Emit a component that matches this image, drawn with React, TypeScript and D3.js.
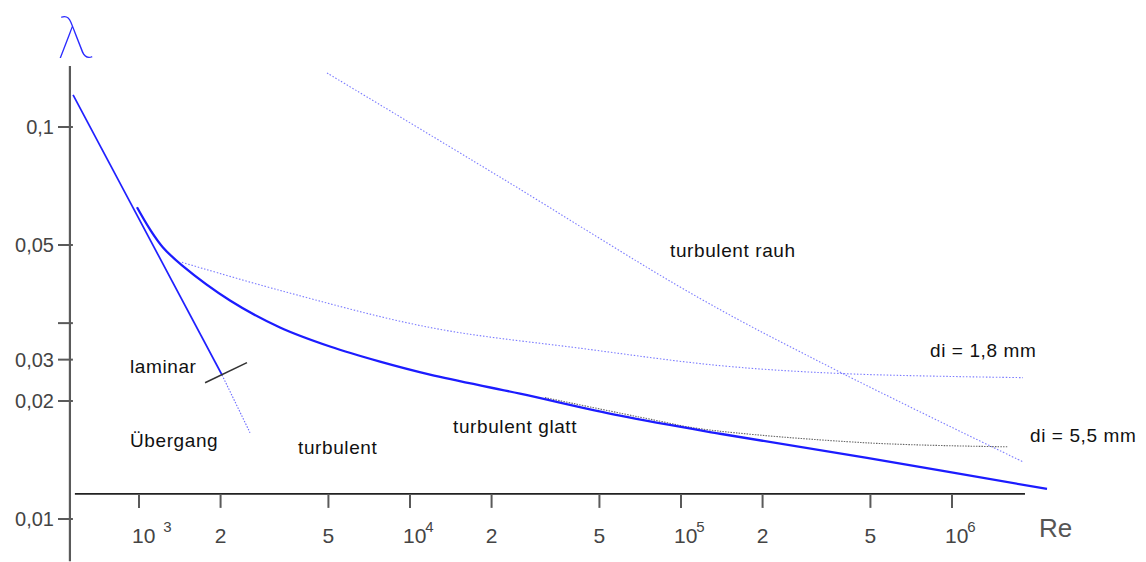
import React, { useEffect, useRef } from "react"
import * as d3 from "d3"

// x axis ticks (Reynolds number)
const xTickValues = [1e3, 2e3, 5e3, 1e4, 2e4, 5e4, 1e5, 2e5, 5e5, 1e6]
const xTickMantissa = ["10", "2", "5", "10", "2", "5", "10", "2", "5", "10"]
const xTickExponent = ["3", "", "", "4", "", "", "5", "", "", "6"]

// y axis ticks (friction factor)
const yTickValues = [0.1, 0.05, 0.0316, 0.0255, 0.02, 0.01]
const yTickLabels = ["0,1", "0,05", "", "0,03", "0,02", "0,01"]

// laminar: lambda = 64/Re (as drawn)
const laminarRe = [571, 2025]
const laminarLambda = [0.1207, 0.0233]
const laminarOutRe = [2025, 2568]
const laminarOutLambda = [0.0233, 0.0166]
const laminarMarkRe = [1753, 2503]
const laminarMarkLambda = [0.02227, 0.02506]

// turbulent smooth pipe
const smoothRe = [983, 1098, 1226, 1441, 2167, 3313, 5068, 7750, 11850, 25460, 59560, 139300, 485800, 2242000]
const smoothLambda = [0.0624, 0.0548, 0.0493, 0.04437, 0.0361, 0.0308, 0.02754, 0.0252, 0.02335, 0.02088, 0.01834, 0.0165, 0.01432, 0.01193]

// rough pipe di = 1,8 mm
const rough18Re = [1441, 3313, 11850, 43480, 139300, 396000, 1828000]
const rough18Lambda = [0.04516, 0.0383, 0.0308, 0.02721, 0.02462, 0.02349, 0.02294]

// rough pipe di = 5,5 mm
const rough55Re = [31490, 78830, 117500, 485800, 1609000]
const rough55Lambda = [0.0204, 0.01791, 0.01699, 0.01564, 0.01528]

// boundary of fully rough region
const roughRe = [4940, 21490, 117500, 396000, 1828000]
const roughLambda = [0.1374, 0.07451, 0.03653, 0.02349, 0.01399]

// axis extents
const xAxisRe = [580, 1859000]
const xAxisLambda = 0.01159
const yAxisRe = 556
const yAxisLambda = [0.143, 0.0078]

const App = () => {
    const ref = useRef<SVGSVGElement | null>(null)

    useEffect(() => {
        if (!ref.current) return
        const svg = d3.select(ref.current)
        svg.selectAll("*").remove()

        const x = d3.scaleLog().domain([1e3, 1e6]).range([139, 952])
        const y = d3.scaleLog().domain([0.1, 0.01]).range([127, 519])

        const line = d3
            .line<[number, number]>()
            .x((d) => x(d[0]))
            .y((d) => y(d[1]))
            .curve(d3.curveCatmullRom.alpha(0.5))

        const zip = (a: number[], b: number[]) =>
            a.map((v, i) => [v, b[i]] as [number, number])

        const font = "'Liberation Sans', Arial, sans-serif"

        // y axis
        svg.append("line")
            .attr("x1", x(yAxisRe)).attr("x2", x(yAxisRe))
            .attr("y1", y(yAxisLambda[0])).attr("y2", y(yAxisLambda[1]))
            .attr("stroke", "#5a5a5a").attr("stroke-width", 2.2)

        yTickValues.forEach((v, i) => {
            svg.append("line")
                .attr("x1", 58).attr("x2", x(yAxisRe) + 3)
                .attr("y1", y(v)).attr("y2", y(v))
                .attr("stroke", "#5a5a5a").attr("stroke-width", 2)
            if (yTickLabels[i]) {
                svg.append("text")
                    .attr("x", 54).attr("y", y(v) + 7)
                    .attr("text-anchor", "end")
                    .attr("font-family", font).attr("font-size", 20)
                    .attr("fill", "#444")
                    .text(yTickLabels[i])
            }
        })

        // x axis
        const xa = y(xAxisLambda)
        svg.append("line")
            .attr("x1", x(xAxisRe[0])).attr("x2", x(xAxisRe[1]))
            .attr("y1", xa).attr("y2", xa)
            .attr("stroke", "#222").attr("stroke-width", 1.6)

        xTickValues.forEach((v, i) => {
            const tx = x(v)
            svg.append("line")
                .attr("x1", tx).attr("x2", tx)
                .attr("y1", xa).attr("y2", xa + 14)
                .attr("stroke", "#5a5a5a").attr("stroke-width", 2)
            const t = svg.append("text")
                .attr("y", 543)
                .attr("font-family", font).attr("font-size", 21)
                .attr("fill", "#444")
            if (xTickExponent[i]) {
                t.attr("x", tx - 7).attr("text-anchor", "start")
                t.append("tspan").text(xTickMantissa[i])
                t.append("tspan")
                    .attr("dx", xTickExponent[i] === "3" ? 8 : -1)
                    .attr("dy", -11)
                    .attr("font-size", 15)
                    .text(xTickExponent[i])
            } else {
                t.attr("x", tx).attr("text-anchor", "middle").text(xTickMantissa[i])
            }
        })

        svg.append("text")
            .attr("x", 1039).attr("y", 537)
            .attr("font-family", font).attr("font-size", 26)
            .attr("fill", "#555")
            .text("Re")

        svg.append("text")
            .attr("x", 75).attr("y", 58)
            .attr("text-anchor", "middle")
            .attr("font-family", "Inter, 'DejaVu Sans', sans-serif")
            .attr("font-weight", 100)
            .attr("font-size", 58)
            .attr("fill", "#2b2bff")
            .text("λ")

        // dotted curves
        svg.append("path")
            .attr("d", line(zip(roughRe, roughLambda)))
            .attr("fill", "none").attr("stroke", "#5a5aff")
            .attr("stroke-width", 1.1).attr("stroke-dasharray", "1.5 1.8")
            .attr("opacity", 0.8)

        svg.append("path")
            .attr("d", line(zip(rough18Re, rough18Lambda)))
            .attr("fill", "none").attr("stroke", "#5a5aff")
            .attr("stroke-width", 1.1).attr("stroke-dasharray", "1.5 1.8")
            .attr("opacity", 0.8)

        svg.append("path")
            .attr("d", line(zip(rough55Re, rough55Lambda)))
            .attr("fill", "none").attr("stroke", "#666")
            .attr("stroke-width", 1.1).attr("stroke-dasharray", "1.5 1.2")

        svg.append("path")
            .attr("d", line(zip(laminarOutRe, laminarOutLambda)))
            .attr("fill", "none").attr("stroke", "#6a6aff")
            .attr("stroke-width", 1.1).attr("stroke-dasharray", "1.5 1.5")

        // solid curves
        svg.append("path")
            .attr("d", line(zip(laminarRe, laminarLambda)))
            .attr("fill", "none").attr("stroke", "#2020ff")
            .attr("stroke-width", 1.7)

        svg.append("path")
            .attr("d", line(zip(smoothRe, smoothLambda)))
            .attr("fill", "none").attr("stroke", "#1c1cff")
            .attr("stroke-width", 2.3)

        svg.append("path")
            .attr("d", line(zip(laminarMarkRe, laminarMarkLambda)))
            .attr("fill", "none").attr("stroke", "#333")
            .attr("stroke-width", 1.6)

        // annotations
        const notes: [string, number, number][] = [
            ["laminar", 130, 373],
            ["Übergang", 130, 447],
            ["turbulent", 298, 454],
            ["turbulent glatt", 453, 433],
            ["turbulent rauh", 670, 257],
            ["di = 1,8 mm", 930, 357],
            ["di = 5,5 mm", 1030, 442],
        ]
        notes.forEach(([s, nx, ny]) => {
            svg.append("text")
                .attr("x", nx).attr("y", ny)
                .attr("font-family", font).attr("font-size", 19)
                .attr("letter-spacing", 0.6)
                .attr("fill", "#111")
                .text(s)
        })
    }, [])

    return (
        <svg
            ref={ref}
            width={1146}
            height={562}
            style={{ position: "absolute", left: 0, top: 0, background: "#fff" }}
        />
    )
}

export default App
